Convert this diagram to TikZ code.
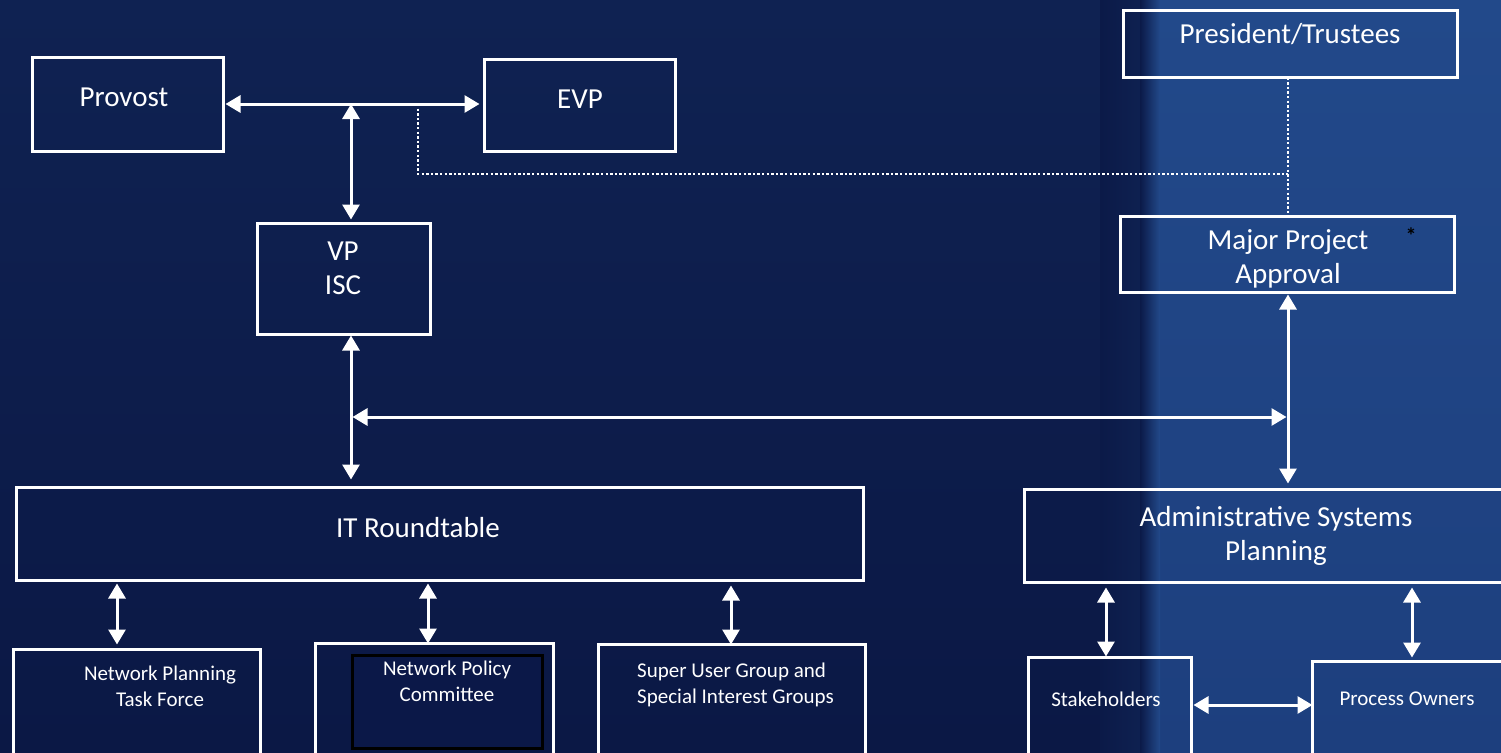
\documentclass[tikz,border=0pt]{standalone}
\usepackage{fontspec}
\setmainfont{Carlito}
\usetikzlibrary{arrows.meta}
\definecolor{bgleft}{HTML}{0F2252}
\definecolor{bgleftlow}{HTML}{0B1845}
\definecolor{bgright}{HTML}{22498A}
\definecolor{bgrightlow}{HTML}{1D3F7E}
\definecolor{bgband}{HTML}{0B1A48}
\definecolor{innerfill}{HTML}{0B1848}
\tikzset{
  box/.style={draw=white, line width=3pt, inner sep=0pt, outer sep=0pt},
  big/.style={text=white, font=\fontsize{29}{34}\selectfont, inner sep=0pt, align=center},
  small/.style={text=white, font=\fontsize{21}{26}\selectfont, inner sep=0pt, align=center},
  arr/.style={white, line width=3pt, {Triangle[width=17pt,length=15pt]}-{Triangle[width=17pt,length=15pt]}},
  dotline/.style={white, line width=2.6pt, dash pattern=on 2.4pt off 2.2pt},
}
\begin{document}
\begin{tikzpicture}[x=1pt,y=-1pt]
\useasboundingbox (0,0) rectangle (1501,752);
\clip (0,0) rectangle (1501,752);
% background
\shade[top color=bgleft, bottom color=bgleftlow] (0,0) rectangle (1150,752);
\shade[left color=bgband, right color=bgleft] (1100,0) rectangle (1148,752);
\shade[top color=bgright, bottom color=bgrightlow] (1148,0) rectangle (1501,752);
\shade[left color=bgband, right color=bgright] (1140,0) rectangle (1160,752);

% boxes
\node[box, minimum width=191pt, minimum height=94pt] (prov) at (128,104.5) {};
\node[box, minimum width=191pt, minimum height=92pt] (evp) at (580,105.5) {};
\node[box, minimum width=173pt, minimum height=111pt] (vp) at (344,279) {};
\node[box, minimum width=334pt, minimum height=67pt] (pres) at (1290.5,44) {};
\node[box, minimum width=334pt, minimum height=76pt] (maj) at (1287.5,254.5) {};
\node[box, minimum width=847pt, minimum height=93pt] (it) at (440,534) {};
\node[box, minimum width=484pt, minimum height=93pt] (adm) at (1266.5,536) {};
\node[box, minimum width=247pt, minimum height=119pt] (nptf) at (137,709) {};
\node[box, minimum width=238pt, minimum height=125pt] (npc) at (434.5,706) {};
\node[draw=black, fill=innerfill, line width=3pt, inner sep=0pt, minimum width=190pt, minimum height=93pt] (npcin) at (447.5,702) {};
\node[box, minimum width=267pt, minimum height=124pt] (sug) at (732,706.5) {};
\node[box, minimum width=163pt, minimum height=111pt] (stk) at (1110,713) {};
\node[box, minimum width=206pt, minimum height=107pt] (prc) at (1415.5,715) {};

% texts
\node[big] (tprov) at (124,97) {Provost};
\node[big] (tevp) at (580,99) {EVP};
\node[big] (tvp) at (343,268) {VP\\ISC};
\node[big] (tpres) at (1290,34) {President/Trustees};
\node[big] (tmaj) at (1288,259) {Major Project\\Approval};
\node[text=black, font=\fontsize{22}{22}\selectfont\bfseries, inner sep=0pt] (ast) at (1411,236) {*};
\node[big] (tit) at (418,528) {IT Roundtable};
\node[big] (tadm) at (1276,536) {Administrative Systems\\Planning};
\node[small] (tnptf) at (160,686) {Network Planning\\Task Force};
\node[small] (tnpc) at (447,681) {Network Policy\\Committee};
\node[small, anchor=west, align=left] (tsug) at (637,685) {Super User Group and\\Special Interest Groups};
\node[small] (tstk) at (1106,699) {Stakeholders};
\node[small] (tprc) at (1407,699) {Process Owners};

% helper coordinates
\coordinate (j1) at (351,104);
\coordinate (d1) at (418,104);
\coordinate (dc) at (1288,174);
\coordinate (h1) at (352.5,417);
\coordinate (h2) at (1286.5,417);
\coordinate (xa) at (117,0);
\coordinate (xb) at (428,0);
\coordinate (xc) at (731,0);
\coordinate (xd) at (1106,0);
\coordinate (xe) at (1412,0);
\coordinate (ys) at (0,705);

% connectors
\draw[arr, shorten <=2pt, shorten >=5pt] (prov.east |- j1) -- (evp.west |- j1);
\draw[arr, shorten >=4pt] (j1) -- (vp.north -| j1);
\draw[dotline] (d1) |- (dc);
\draw[dotline] (pres.south -| dc) -- (maj.north -| dc);
\draw[arr, shorten <=1pt, shorten >=8pt] (vp.south -| j1) -- (it.north -| j1);
\draw[arr] (h1) -- (h2);
\draw[arr, shorten <=2pt, shorten >=6pt] (maj.south -| dc) -- (adm.north -| dc);
\draw[arr, shorten <=3pt, shorten >=5pt] (it.south -| xa) -- (nptf.north -| xa);
\draw[arr, shorten <=3pt, shorten >=0pt] (it.south -| xb) -- (npc.north -| xb);
\draw[arr, shorten <=5pt, shorten >=0pt] (it.south -| xc) -- (sug.north -| xc);
\draw[arr, shorten <=5pt, shorten >=1pt] (adm.south -| xd) -- (stk.north -| xd);
\draw[arr, shorten <=5pt, shorten >=4pt] (adm.south -| xe) -- (prc.north -| xe);
\draw[arr, shorten <=2pt, shorten >=0pt] (stk.east |- ys) -- (prc.west |- ys);
\end{tikzpicture}
\end{document}
